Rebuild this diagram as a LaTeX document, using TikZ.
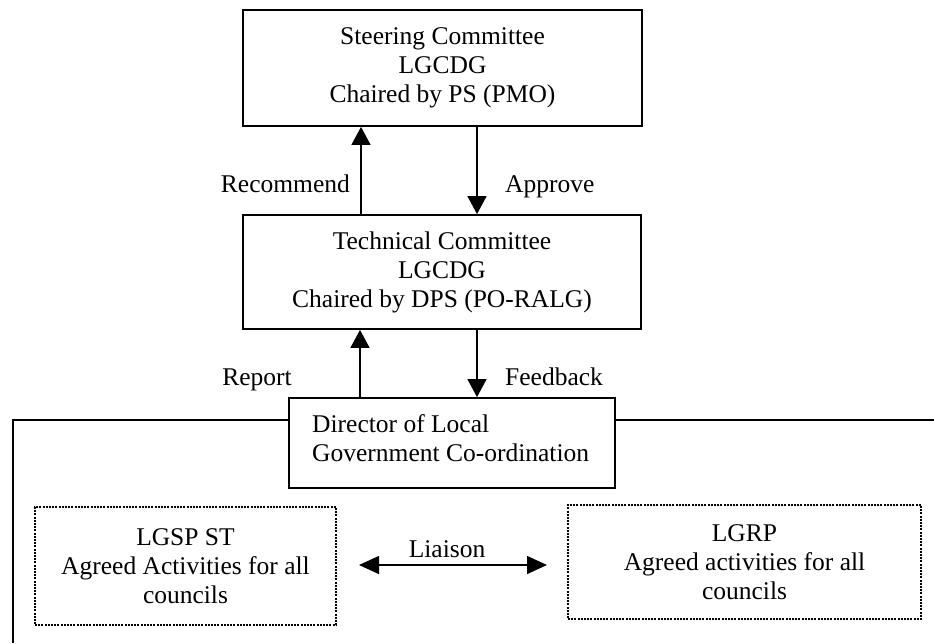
\documentclass[tikz,border=0pt]{standalone}
\usepackage{fontspec}
\setmainfont{Liberation Serif}
\usetikzlibrary{arrows.meta}
\begin{document}
\begin{tikzpicture}[x=1pt,y=-1pt,
  every node/.style={font=\fontsize{25.5}{29}\selectfont},
  box/.style={draw, line width=1.8pt, align=center, inner sep=0pt},
  dotbox/.style={draw, line width=1.4pt, dash pattern=on 2pt off 1.2pt, align=center, inner sep=0pt},
  arr/.style={line width=1.4pt, -{Triangle[length=18pt,width=19pt]}},
  dblarr/.style={line width=1.4pt, {Triangle[length=20pt,width=18pt]}-{Triangle[length=20pt,width=18pt]}},
  conn/.style={line width=1.8pt},
  lbl/.style={inner sep=0pt}]
\useasboundingbox (0,0) rectangle (934,643);
% boxes
\node[box, minimum width=399pt, minimum height=116pt] (steer) at (442.5,68)
  {Steering Committee\\LGCDG\\Chaired by PS (PMO)};
\node[box, minimum width=398pt, minimum height=114pt] (tech) at (442,272)
  {Technical Committee\\LGCDG\\Chaired by DPS (PO-RALG)};
\node[box, minimum width=326pt, minimum height=90pt] (dir) at (452,443) {};
\node[lbl, anchor=north west, align=left] (dirtext) at (312,414)
  {Director of Local\\Government Co-ordination};
\node[dotbox, minimum width=301pt, minimum height=118pt] (lgsp) at (185.5,566)
  {LGSP ST\\Agreed Activities for all\\councils};
\node[dotbox, minimum width=353pt, minimum height=114pt] (lgrp) at (744.5,562)
  {LGRP\\Agreed activities for all\\councils};
% helper coordinates
\coordinate (xr) at (361,0);
\coordinate (xa) at (477,0);
\coordinate (xrep) at (360,0);
\coordinate (hl) at (0,420);
\coordinate (lcorner) at (13,420);
\coordinate (lend) at (13,643);
\coordinate (rend) at (934,420);
\coordinate (la) at (359,565);
\coordinate (lb) at (547,565);
% arrows
\draw[arr] (tech.north -| xr) -- (steer.south -| xr);
\draw[arr] (steer.south -| xa) -- (tech.north -| xa);
\draw[arr] (dir.north -| xrep) -- (tech.south -| xrep);
\draw[arr] (tech.south -| xa) -- (dir.north -| xa);
\draw[dblarr] (la) -- (lb);
% frame lines
\draw[conn] (dir.west |- hl) -- (lcorner) -- (lend);
\draw[conn] (dir.east |- hl) -- (rend);
% labels
\node[lbl, anchor=base east] (recl) at (350,192) {Recommend};
\node[lbl, anchor=base west] (appl) at (505,192) {Approve};
\node[lbl, anchor=base east] (repl) at (292,385) {Report};
\node[lbl, anchor=base west] (feedl) at (505,385) {Feedback};
\node[lbl, anchor=base] (liai) at (447,557) {Liaison};
\end{tikzpicture}
\end{document}
